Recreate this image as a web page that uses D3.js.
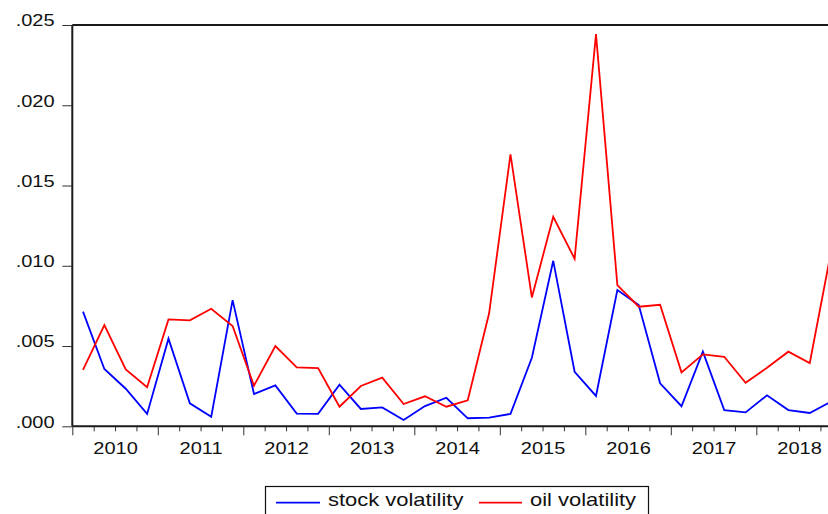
<!DOCTYPE html>
<html>
<head>
<meta charset="utf-8">
<script src="https://cdn.jsdelivr.net/npm/d3@7"></script>
<style>
  body { margin: 0; background: #fff; }
  svg { display: block; font-family: "Liberation Sans", Arial, sans-serif; }
</style>
</head>
<body>
<div id="chart"></div>
<script>
// quarterly volatility, 2010Q1 .. 2018Q4
const years = [2010, 2011, 2012, 2013, 2014, 2015, 2016, 2017, 2018];
const quarters = years.flatMap(y => [1, 2, 3, 4].map(q => y + 'Q' + q));

const stockVol = [
  0.00714, 0.00357, 0.00234, 0.00077, 0.00546, 0.00143, 0.00060, 0.00786,
  0.00201, 0.00255, 0.00079, 0.00078, 0.00259, 0.00108, 0.00118, 0.00039,
  0.00126, 0.00178, 0.00050, 0.00054, 0.00077, 0.00427, 0.01031, 0.00340,
  0.00189, 0.00849, 0.00755, 0.00268, 0.00125, 0.00465, 0.00101, 0.00087,
  0.00193, 0.00101, 0.00083, 0.00154
];
const oilVol = [
  0.00351, 0.00631, 0.00355, 0.00243, 0.00666, 0.00660, 0.00732, 0.00625,
  0.00253, 0.00500, 0.00367, 0.00363, 0.00122, 0.00251, 0.00303, 0.00139,
  0.00187, 0.00122, 0.00162, 0.00704, 0.01694, 0.00803, 0.01305, 0.01044,
  0.02443, 0.00880, 0.00745, 0.00757, 0.00336, 0.00448, 0.00433, 0.00271,
  0.00365, 0.00465, 0.00394, 0.01090
];
const yTicks = [0, 0.005, 0.010, 0.015, 0.020, 0.025];
const seriesNames = ['stock volatility', 'oil volatility'];
const seriesColors = ['#0000ff', '#ff0000'];

const width = 828, height = 514;
const plotLeft = 72.3, plotTop = 25, plotBottom = 426.3;
const qWidth = 21.375;
const plotRight = plotLeft + quarters.length * qWidth; // runs past the window edge
const stretch = 1.25; // text in the picture is wider than normal

const svg = d3.select('#chart').append('svg')
  .attr('width', width)
  .attr('height', height);

const x = d3.scaleLinear()
  .domain([years[0], years[years.length - 1] + 1])
  .range([plotLeft, plotRight]);

const y = d3.scaleLinear()
  .domain([0, 0.025])
  .range([plotBottom, plotTop]);

const xOf = i => x(years[0] + (i + 0.5) / 4);

// frame top line
svg.append('line')
  .attr('x1', plotLeft).attr('x2', plotRight)
  .attr('y1', plotTop).attr('y2', plotTop)
  .attr('stroke', '#1a1a1a').attr('stroke-width', 2);

// left axis
const yAxis = svg.append('g')
  .attr('transform', `translate(${plotLeft},0)`)
  .call(d3.axisLeft(y).tickValues(yTicks).tickSize(10)
    .tickFormat(d => d3.format('.3f')(d).replace(/^0/, '')));
yAxis.select('.domain').attr('stroke', '#1a1a1a').attr('stroke-width', 2)
  .attr('d', `M0,${plotTop}V${plotBottom}`);
yAxis.selectAll('.tick line').attr('stroke', '#333').attr('stroke-width', 1);
yAxis.selectAll('.tick text')
  .attr('x', -17.7 / stretch)
  .attr('dy', '0.05em')
  .attr('transform', `scale(${stretch},1)`)
  .attr('font-size', 16)
  .attr('fill', '#111');

// bottom axis: quarter ticks, year ticks, year labels
const quarterBounds = d3.range(quarters.length + 1).map(i => years[0] + i / 4)
  .filter(v => !Number.isInteger(v));
const minor = svg.append('g')
  .attr('transform', `translate(0,${plotBottom})`)
  .call(d3.axisBottom(x).tickValues(quarterBounds).tickSize(5).tickFormat(''));
minor.select('.domain').remove();

const major = svg.append('g')
  .attr('transform', `translate(0,${plotBottom})`)
  .call(d3.axisBottom(x).tickValues(years.concat([years[years.length - 1] + 1])).tickSize(9).tickFormat(''));
major.select('.domain').attr('stroke', '#1a1a1a').attr('stroke-width', 2)
  .attr('d', `M${plotLeft},0H${plotRight}`);

const labels = svg.append('g')
  .attr('transform', `translate(0,${plotBottom})`)
  .call(d3.axisBottom(x).tickValues(years.map(v => v + 0.5)).tickSize(0)
    .tickFormat(d => String(Math.floor(d))));
labels.select('.domain').remove();
labels.selectAll('.tick text')
  .attr('y', 27.7)
  .attr('dy', 0)
  .attr('transform', `scale(${stretch},1)`)
  .attr('font-size', 16)
  .attr('fill', '#111');

svg.selectAll('.tick line').attr('stroke', '#333');

// series
const line = d3.line()
  .x((d, i) => xOf(i))
  .y(d => y(d));

[stockVol, oilVol].forEach((vals, k) => {
  svg.append('path')
    .datum(vals)
    .attr('d', line)
    .attr('fill', 'none')
    .attr('stroke', seriesColors[k])
    .attr('stroke-width', 1.8)
    .attr('stroke-linejoin', 'miter');
});

// legend
const legend = svg.append('g');
legend.append('rect')
  .attr('x', 265.5).attr('y', 486.5)
  .attr('width', 383).attr('height', 40)
  .attr('fill', 'none').attr('stroke', '#111').attr('stroke-width', 1.2);

const legendX = [[276, 320, 328], [479, 522, 530]];
seriesNames.forEach((name, k) => {
  const [x1, x2, tx] = legendX[k];
  legend.append('line')
    .attr('x1', x1).attr('x2', x2)
    .attr('y1', 502.7).attr('y2', 502.7)
    .attr('stroke', seriesColors[k]).attr('stroke-width', 1.8);
  legend.append('text')
    .attr('transform', `translate(${tx},506) scale(1.22,1)`)
    .attr('font-size', 18)
    .attr('fill', '#111')
    .text(name);
});
</script>
</body>
</html>
